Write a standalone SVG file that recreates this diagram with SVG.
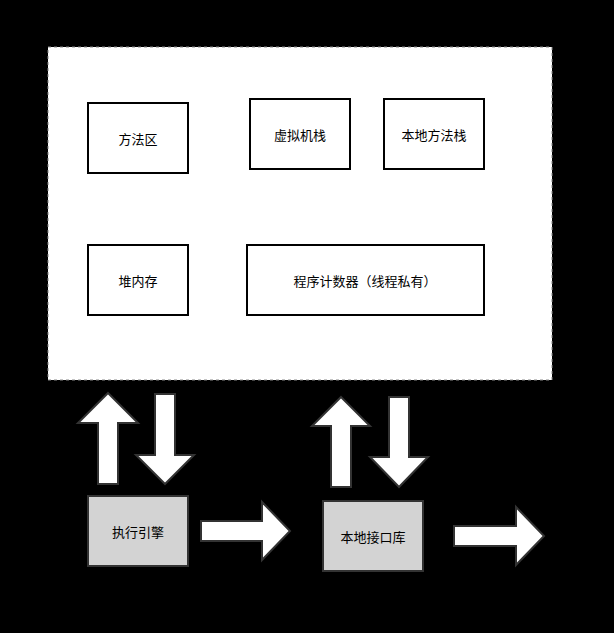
<svg xmlns="http://www.w3.org/2000/svg" width="614" height="633" viewBox="0 0 614 633">
<style>
.b{fill:#fff;stroke:#000;stroke-width:2}
.g{fill:#d3d3d3;stroke:#333;stroke-width:2}
.a{fill:#fff;stroke:#333;stroke-width:2;stroke-linejoin:miter}
text{font-family:"Noto Sans CJK SC","Liberation Sans",sans-serif;font-size:13px;fill:#000;text-anchor:middle;dominant-baseline:central}
</style>
<rect width="614" height="633" fill="#000"/>
<g id="container"><rect x="48" y="47" width="504" height="333" fill="#fff" stroke="#888" stroke-dasharray="3 3"/></g>
<g id="n1"><rect class="b" x="88" y="103" width="100" height="70"/><text x="138" y="138">方法区</text></g>
<g id="n2"><rect class="b" x="250" y="99" width="100" height="70"/><text x="300" y="134">虚拟机栈</text></g>
<g id="n3"><rect class="b" x="384" y="99" width="100" height="70"/><text x="434" y="134">本地方法栈</text></g>
<g id="n4"><rect class="b" x="88" y="245" width="100" height="70"/><text x="138" y="280">堆内存</text></g>
<g id="n5"><rect class="b" x="247" y="245" width="237" height="70"/><text x="365" y="280">程序计数器（线程私有）</text></g>
<g id="n6"><rect class="g" x="88" y="496" width="100" height="70"/><text x="138" y="531">执行引擎</text></g>
<g id="n7"><rect class="g" x="323" y="501" width="100" height="70"/><text x="373" y="536">本地接口库</text></g>
<g id="connectors">
<polygon class="a" points="108,393 138,423 118,423 118,484 98,484 98,423 78,423"/>
<polygon class="a" points="155,394 175,394 175,455 194,455 165,484 136,455 155,455"/>
<polygon class="a" points="341,397 370,426 351,426 351,487 331,487 331,426 312,426"/>
<polygon class="a" points="389,397 409,397 409,457 428,457 399,487 370,457 389,457"/>
<polygon class="a" points="201,521 262,521 262,502 290,531 262,560 262,541 201,541"/>
<polygon class="a" points="454,526 516,526 516,507 544,536 516,565 516,546 454,546"/>
</g>
</svg>
